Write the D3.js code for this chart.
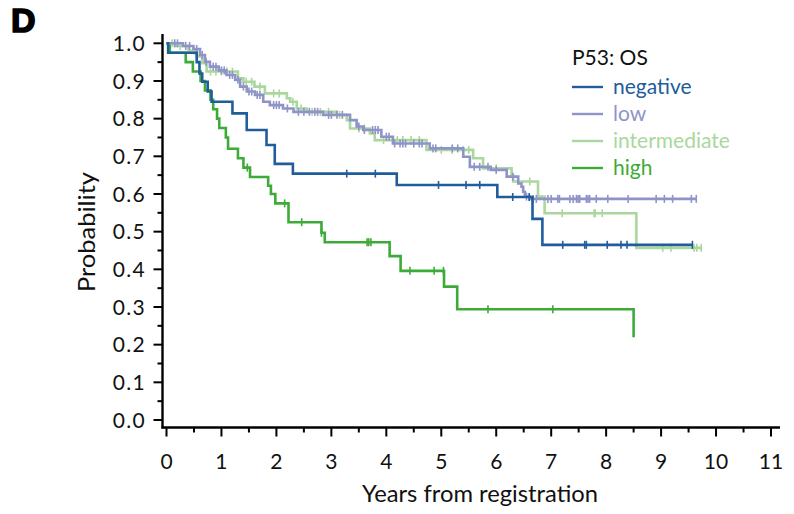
<!DOCTYPE html>
<html>
<head>
<meta charset="utf-8">
<script src="https://cdn.jsdelivr.net/npm/d3@7"></script>
<style>
  html, body { margin: 0; padding: 0; background: #fff; }
  svg { display: block; }
</style>
</head>
<body>
<svg id="chart" width="794" height="514"></svg>
<script>
// Kaplan-Meier overall survival by P53 group: [years, survival probability] at each event
const negativeSteps = [[0,1],[0.03,0.975],[0.55,0.95],[0.6,0.92],[0.65,0.898],[0.75,0.872],[0.82,0.845],[1.2,0.814],[1.46,0.77],[1.82,0.73],[1.97,0.68],[2.3,0.654],[4.19,0.624],[6.02,0.592],[6.66,0.534],[6.84,0.465]];
const negativeCensored = [3.28,3.8,4.95,5.45,5.7,6.3,6.6,7.21,7.61,7.64,8.02,8.27,8.38,9.57];
const negativeEnd = 9.57;

const lowSteps = [[0,1],[0.3,0.993],[0.49,0.985],[0.61,0.969],[0.7,0.951],[0.79,0.938],[0.95,0.928],[1.09,0.916],[1.25,0.903],[1.34,0.885],[1.46,0.872],[1.61,0.863],[1.76,0.845],[1.88,0.836],[2.12,0.827],[2.31,0.818],[2.85,0.81],[3.34,0.796],[3.46,0.779],[3.58,0.77],[3.91,0.752],[4.12,0.734],[4.79,0.721],[5.4,0.699],[5.52,0.672],[5.9,0.664],[6.19,0.646],[6.4,0.628],[6.46,0.619],[6.49,0.606],[6.52,0.593],[6.61,0.587]];
const lowCensored = [0.15,0.2,0.35,0.42,0.55,0.65,0.72,0.85,0.9,1.0,1.05,1.15,1.2,1.3,1.4,1.5,1.55,1.65,1.7,1.95,2.0,2.05,2.2,2.4,2.5,2.6,2.7,2.75,2.95,3.0,3.1,3.2,3.5,3.6,3.75,3.8,3.85,4.0,4.05,4.15,4.25,4.3,4.35,4.5,4.6,4.65,4.85,4.9,5.2,5.3,5.6,5.7,5.85,6.0,6.3,6.55,6.67,6.73,6.94,7.0,7.12,7.15,7.34,7.4,7.46,7.49,7.52,7.64,7.67,7.7,7.82,8.03,8.4,8.91,9.06,9.21,9.55,9.64];
const lowEnd = 9.64;

const intermediateSteps = [[0,1],[0.15,0.993],[0.4,0.98],[0.55,0.965],[0.65,0.947],[0.73,0.925],[1.3,0.907],[1.4,0.898],[1.6,0.885],[1.79,0.867],[2.19,0.854],[2.25,0.845],[2.37,0.827],[2.55,0.818],[3.1,0.81],[3.28,0.796],[3.34,0.774],[3.7,0.761],[3.79,0.743],[4.73,0.717],[5.58,0.695],[5.76,0.668],[6.28,0.65],[6.31,0.633],[6.76,0.593],[6.88,0.549],[8.55,0.457]];
const intermediateCensored = [0.1,0.25,0.5,0.8,0.9,1.0,1.1,1.2,1.45,1.55,1.7,1.95,2.05,2.3,2.45,2.65,2.8,2.95,3.15,3.5,3.6,3.95,4.2,4.3,4.45,4.6,5.0,5.2,5.4,5.5,6.0,6.61,7.2,7.78,7.8,7.93,9.03,9.18,9.6,9.65,9.73];
const intermediateEnd = 9.73;

const highSteps = [[0,1],[0.06,0.975],[0.35,0.95],[0.48,0.925],[0.62,0.9],[0.7,0.875],[0.8,0.85],[0.85,0.825],[0.92,0.8],[0.96,0.775],[1.08,0.75],[1.12,0.72],[1.3,0.695],[1.4,0.67],[1.52,0.645],[1.85,0.622],[1.9,0.6],[1.98,0.575],[2.22,0.525],[2.82,0.497],[2.88,0.472],[4.06,0.435],[4.26,0.396],[5.05,0.354],[5.29,0.294],[8.5,0.22]];
const highCensored = [1.47,2.15,2.46,2.82,3.65,3.68,3.72,4.43,4.87,5.04,5.85,7.03];
const highEnd = 8.5;

// Axis ticks
const xTicks = d3.range(0, 12);
const yTicks = [0,0.1,0.2,0.3,0.4,0.5,0.6,0.7,0.8,0.9,1.0];

const groups = [
  {name: "negative",     color: "#215d9b", steps: negativeSteps,     censored: negativeCensored,     end: negativeEnd},
  {name: "low",          color: "#8f94c8", steps: lowSteps,          censored: lowCensored,          end: lowEnd},
  {name: "intermediate", color: "#aad79d", steps: intermediateSteps, censored: intermediateCensored, end: intermediateEnd},
  {name: "high",         color: "#3cab37", steps: highSteps,         censored: highCensored,         end: highEnd}
];
const drawOrder = ["high", "intermediate", "low", "negative"];

const svg = d3.select("#chart");
const x = d3.scaleLinear().domain([0, 11]).range([166.5, 771]);
const y = d3.scaleLinear().domain([0, 1]).range([420, 43.3]);

const axisX = 162.5, axisY = 427.5;
const font = "Lato, 'Noto Sans', sans-serif";

// Panel letter
svg.append("text").attr("x", 11).attr("y", 32)
  .attr("font-family", "'Liberation Sans', Arial, sans-serif").attr("font-weight", 700)
  .attr("font-size", 34).attr("stroke", "#000").attr("stroke-width", 1.6)
  .text("D");

// Y axis
const gy = svg.append("g");
gy.append("line").attr("x1", axisX).attr("x2", axisX).attr("y1", 34).attr("y2", axisY + 1)
  .attr("stroke", "#000").attr("stroke-width", 2.4);
const yMinor = d3.range(0, 1.0001, 0.05);
gy.selectAll("line.tk").data(yMinor).join("line").attr("class", "tk")
  .attr("x1", d => axisX - (Math.round(d * 20) % 2 === 0 ? 9 : 5)).attr("x2", axisX)
  .attr("y1", d => y(d)).attr("y2", d => y(d))
  .attr("stroke", "#000").attr("stroke-width", 2);
gy.selectAll("text").data(yTicks).join("text")
  .attr("x", 146).attr("y", d => y(d)).attr("dy", "0.36em")
  .attr("text-anchor", "end").attr("font-family", font).attr("font-size", 21)
  .attr("letter-spacing", 1.3).attr("fill", "#111")
  .text(d => d3.format(".1f")(d));

// X axis
const gx = svg.append("g");
gx.append("line").attr("x1", axisX - 1).attr("x2", 780).attr("y1", axisY).attr("y2", axisY)
  .attr("stroke", "#000").attr("stroke-width", 2.4);
const xMinor = d3.range(0, 11.001, 0.5);
gx.selectAll("line.tk").data(xMinor).join("line").attr("class", "tk")
  .attr("x1", d => x(d)).attr("x2", d => x(d))
  .attr("y1", axisY).attr("y2", d => axisY + (Math.round(d * 2) % 2 === 0 ? 9 : 5))
  .attr("stroke", "#000").attr("stroke-width", 2);
gx.selectAll("text").data(xTicks).join("text")
  .attr("x", d => x(d)).attr("y", 469)
  .attr("text-anchor", "middle").attr("font-family", font).attr("font-size", 21)
  .attr("fill", "#111")
  .text(d => d);

// Axis titles
svg.append("text").attr("x", 480).attr("y", 502).attr("text-anchor", "middle")
  .attr("font-family", font).attr("font-size", 23).attr("fill", "#111")
  .attr("textLength", 236).attr("lengthAdjust", "spacingAndGlyphs")
  .text("Years from registration");
svg.append("text").attr("transform", "translate(95,232) rotate(-90)").attr("text-anchor", "middle")
  .attr("font-family", font).attr("font-size", 23).attr("fill", "#111")
  .attr("textLength", 120).attr("lengthAdjust", "spacingAndGlyphs")
  .text("Probability");

// Survival curves
const line = d3.line().x(d => x(d[0])).y(d => y(d[1])).curve(d3.curveStepAfter);
const survivalAt = (steps, t) => {
  let s = steps[0][1];
  for (const [ts, v] of steps) { if (ts <= t) s = v; else break; }
  return s;
};

const gc = svg.append("g");
drawOrder.forEach(name => {
  const g = groups.find(d => d.name === name);
  const last = g.steps[g.steps.length - 1];
  const pts = g.steps.concat([[g.end, last[1]]]);
  const sg = gc.append("g");
  sg.append("path").attr("d", line(pts)).attr("fill", "none")
    .attr("stroke", g.color).attr("stroke-width", 2.6).attr("stroke-linejoin", "miter");
  sg.selectAll("line").data(g.censored).join("line")
    .attr("x1", d => x(d)).attr("x2", d => x(d))
    .attr("y1", d => y(survivalAt(g.steps, d)) - 4)
    .attr("y2", d => y(survivalAt(g.steps, d)) + 4)
    .attr("stroke", g.color).attr("stroke-width", 1.6);
});

// Legend
const lg = svg.append("g");
lg.append("text").attr("x", 572).attr("y", 65).attr("font-family", font)
  .attr("font-size", 21).attr("fill", "#111").text("P53: OS");
groups.forEach((g, i) => {
  const yy = 87 + i * 27;
  lg.append("line").attr("x1", 572).attr("x2", 603).attr("y1", yy).attr("y2", yy)
    .attr("stroke", g.color).attr("stroke-width", 2.4);
  lg.append("text").attr("x", 613).attr("y", yy).attr("dy", "0.33em")
    .attr("font-family", font).attr("font-size", 21).attr("fill", g.color).text(g.name);
});
</script>
</body>
</html>
